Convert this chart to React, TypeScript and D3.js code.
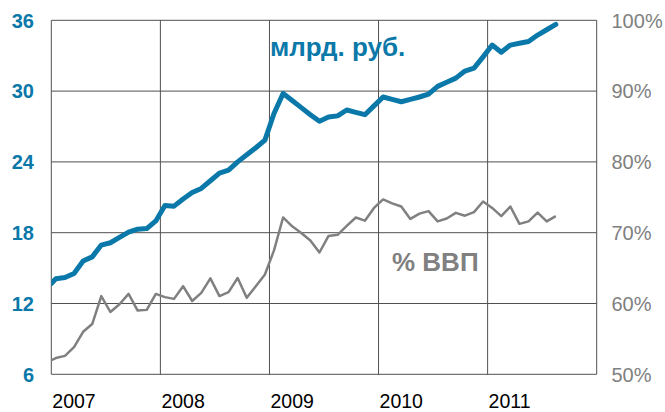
import React from "react";
import * as d3 from "d3";

// Month offsets from 1 Jan 2007 (first value at start, then mid-month readings)
const monthOffsets: number[] = [0, ...d3.range(0.5, 56, 1)];

// Debt, bn rub (left axis)
const debtRub: number[] = [
  13.7, 14.1, 14.2, 14.55, 15.6, 15.95, 16.95, 17.15, 17.6, 18.05, 18.3, 18.35,
  19.0, 20.3, 20.25, 20.85, 21.4, 21.75, 22.4, 23.05, 23.3, 24.0, 24.6, 25.2,
  25.85, 28.1, 29.8, 29.2, 28.6, 28.0, 27.45, 27.8, 27.9, 28.4, 28.2, 28.0,
  28.75, 29.5, 29.3, 29.1, 29.3, 29.5, 29.75, 30.4, 30.75, 31.1, 31.7, 31.95,
  32.9, 33.9, 33.3, 33.9, 34.05, 34.2, 34.75, 35.2, 35.65,
];

// Debt, % of GDP (right axis)
const debtGdp: number[] = [
  52.0, 52.3, 52.6, 53.85, 56.0, 57.1, 61.05, 58.8, 59.9, 61.35, 59.0, 59.1,
  61.35, 60.9, 60.65, 62.45, 60.35, 61.5, 63.55, 61.05, 61.6, 63.6, 60.8, 62.45,
  64.1, 67.5, 72.15, 70.9, 69.95, 68.9, 67.2, 69.55, 69.7, 70.95, 72.15, 71.7,
  73.5, 74.7, 74.15, 73.7, 71.95, 72.7, 73.05, 71.6, 72.0, 72.8, 72.4, 72.9,
  74.4, 73.5, 72.35, 73.7, 71.25, 71.6, 72.85, 71.6, 72.35,
];

const yearLabels: string[] = ["2007", "2008", "2009", "2010", "2011"];
const leftTicks: number[] = [6, 12, 18, 24, 30, 36];
const rightTicks: number[] = [50, 60, 70, 80, 90, 100];
const labelRub = "млрд. руб.";
const labelGdp = "% ВВП";

const BLUE = "#0a78a9";
const GRAY = "#808080";
const GRID = "#505050";
const FONT = "'Liberation Sans', Arial, sans-serif";

export default function App() {
  const W = 665;
  const H = 412;
  const left = 51.3;
  const right = 596.7;
  const top = 20.3;
  const bottom = 374.3;

  const x = d3.scaleLinear().domain([0, 60]).range([left, right]);
  const yL = d3.scaleLinear().domain([6, 36]).range([bottom, top]);
  const yR = d3.scaleLinear().domain([50, 100]).range([bottom, top]);

  const lineRub = d3
    .line<number>()
    .x((_, i) => x(monthOffsets[i]))
    .y((d) => yL(d));
  const lineGdp = d3
    .line<number>()
    .x((_, i) => x(monthOffsets[i]))
    .y((d) => yR(d));

  const yearTicks = yearLabels.map((_, i) => i * 12);

  return (
    <svg
      width={W}
      height={H}
      style={{ position: "absolute", left: 0, top: 0, display: "block", background: "#fff" }}
      fontFamily={FONT}
    >
      <defs>
        <clipPath id="plotClip">
          <rect x={left} y={top - 6} width={right - left + 6} height={bottom - top + 6} />
        </clipPath>
      </defs>
      {/* horizontal gridlines */}
      {leftTicks.map((t) => (
        <line
          key={"h" + t}
          x1={left}
          x2={right}
          y1={yL(t)}
          y2={yL(t)}
          stroke={GRID}
          strokeWidth={1}
        />
      ))}
      {/* vertical gridlines */}
      {[...yearTicks, 60].map((t) => (
        <line
          key={"v" + t}
          x1={x(t)}
          x2={x(t)}
          y1={top}
          y2={bottom}
          stroke={GRID}
          strokeWidth={1}
        />
      ))}
      {/* left axis labels */}
      {leftTicks.map((t) => (
        <text
          key={"l" + t}
          x={34}
          y={yL(t)}
          dy="0.36em"
          textAnchor="end"
          fontSize={20}
          fontWeight="bold"
          fill={BLUE}
        >
          {t}
        </text>
      ))}
      {/* right axis labels */}
      {rightTicks.map((t) => (
        <text
          key={"r" + t}
          x={611.5}
          y={yR(t)}
          dy="0.36em"
          textAnchor="start"
          fontSize={20}
          fill={GRAY}
        >
          {t}%
        </text>
      ))}
      {/* year labels */}
      {yearLabels.map((lab, i) => (
        <text key={lab} x={x(yearTicks[i]) + 1} y={407.5} fontSize={19.5} fill="#000">
          {lab}
        </text>
      ))}
      <g clipPath="url(#plotClip)">
        <path
          d={lineGdp(debtGdp) || ""}
          fill="none"
          stroke={GRAY}
          strokeWidth={2.5}
          strokeLinejoin="round"
        />
        <path
          d={lineRub(debtRub) || ""}
          fill="none"
          stroke={BLUE}
          strokeWidth={5}
          strokeLinejoin="round"
          strokeLinecap="round"
        />
      </g>
      <text x={270} y={56} fontSize={26} fontWeight="bold" fill={BLUE}>
        {labelRub}
      </text>
      <text x={392} y={271} fontSize={26} fontWeight="bold" fill={GRAY}>
        {labelGdp}
      </text>
    </svg>
  );
}
